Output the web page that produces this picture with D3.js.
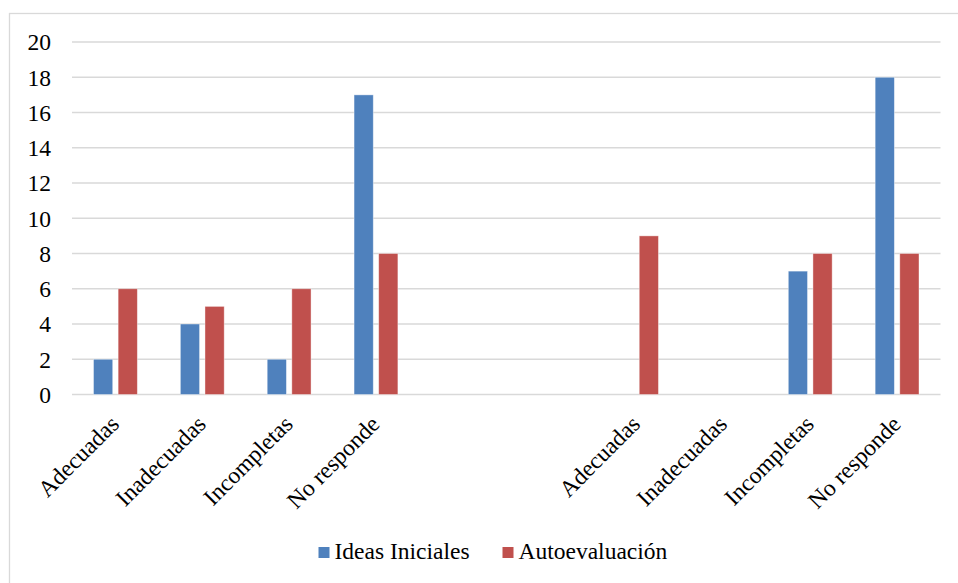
<!DOCTYPE html>
<html>
<head>
<meta charset="utf-8">
<script src="https://cdn.jsdelivr.net/npm/d3@7"></script>
<style>
  html, body { margin: 0; padding: 0; background: #fff; }
  svg { display: block; }
  svg text { font-family: 'Liberation Serif', serif; }
</style>
</head>
<body>
<svg id="chart" width="958" height="583"></svg>
<script>
// Two blocks of response categories separated by two empty slots
const categories = ["Adecuadas", "Inadecuadas", "Incompletas", "No responde", "", " ",
                    "Adecuadas ", "Inadecuadas ", "Incompletas ", "No responde "];
const ideasIniciales = [2, 4, 2, 17, null, null, 0, 0, 7, 18];
const autoevaluacion = [6, 5, 6, 8, null, null, 9, 0, 8, 8];
const seriesNames = ["Ideas Iniciales", "Autoevaluación"];
const seriesColors = ["#4F81BD", "#C0504D"];
const yTicks = [0, 2, 4, 6, 8, 10, 12, 14, 16, 18, 20];

const FONT = "'Liberation Serif', serif";
const FS = 23.5;

const svg = d3.select("#chart");
const W = 958, H = 583;
const plot = { left: 72, right: 940.5, top: 42, bottom: 394.5 };

// Outer frame of the chart area
svg.append("rect")
  .attr("x", 9.5).attr("y", 13.5)
  .attr("width", W).attr("height", H)
  .attr("fill", "none").attr("stroke", "#d9d9d9").attr("stroke-width", 1.3);

const x = d3.scaleBand().domain(categories).range([plot.left, plot.right]);
const y = d3.scaleLinear().domain([0, 20]).range([plot.bottom, plot.top]);

// Horizontal gridlines
svg.append("g").selectAll("line").data(yTicks).join("line")
  .attr("x1", plot.left).attr("x2", plot.right)
  .attr("y1", d => y(d)).attr("y2", d => y(d))
  .attr("stroke", "#d9d9d9").attr("stroke-width", 1.3);

// Y axis labels
const yAxis = d3.axisLeft(y).tickValues(yTicks).tickSize(0).tickPadding(0);
const yg = svg.append("g").attr("transform", `translate(51,0)`).call(yAxis);
yg.select(".domain").remove();
yg.selectAll("text")
  .style("font-family", FONT).style("font-size", FS + "px")
  .attr("fill", "#000").attr("dy", "0.33em");

// Bars within each category slot
const inner = d3.scaleBand().domain([0, 1]).range([21.5, x.bandwidth() - 21.5]).paddingInner(0.22);
const rows = [];
categories.forEach((c, i) => {
  [ideasIniciales[i], autoevaluacion[i]].forEach((v, s) => {
    if (v != null && v > 0) rows.push({ c, s, v });
  });
});
svg.append("g").selectAll("rect").data(rows).join("rect")
  .attr("x", d => x(d.c) + inner(d.s))
  .attr("width", inner.bandwidth())
  .attr("y", d => y(d.v))
  .attr("height", d => y(0) - y(d.v))
  .attr("fill", d => seriesColors[d.s])
  .attr("stroke", "#fff").attr("stroke-opacity", 0.5).attr("stroke-width", 0.8);

// Rotated category labels
const xAxis = d3.axisBottom(x).tickSize(0).tickPadding(0);
const xg = svg.append("g").attr("transform", `translate(0,${plot.bottom})`).call(xAxis);
xg.select(".domain").remove();
xg.selectAll("text")
  .text(d => d.trim())
  .style("font-family", FONT).style("font-size", FS + "px")
  .attr("fill", "#000")
  .attr("text-anchor", "end")
  .attr("dy", null).attr("y", 0)
  .attr("transform", "translate(5,31) rotate(-45)");

// Legend
const legendItems = [
  { name: seriesNames[0], color: seriesColors[0], x: 318.5 },
  { name: seriesNames[1], color: seriesColors[1], x: 502.5 }
];
const li = svg.append("g").selectAll("g").data(legendItems).join("g")
  .attr("transform", d => `translate(${d.x},547)`);
li.append("rect").attr("width", 11).attr("height", 11).attr("fill", d => d.color);
li.append("text").attr("x", 16).attr("y", 12)
  .style("font-family", FONT).style("font-size", FS + "px")
  .attr("fill", "#000")
  .text(d => d.name);
</script>
</body>
</html>
